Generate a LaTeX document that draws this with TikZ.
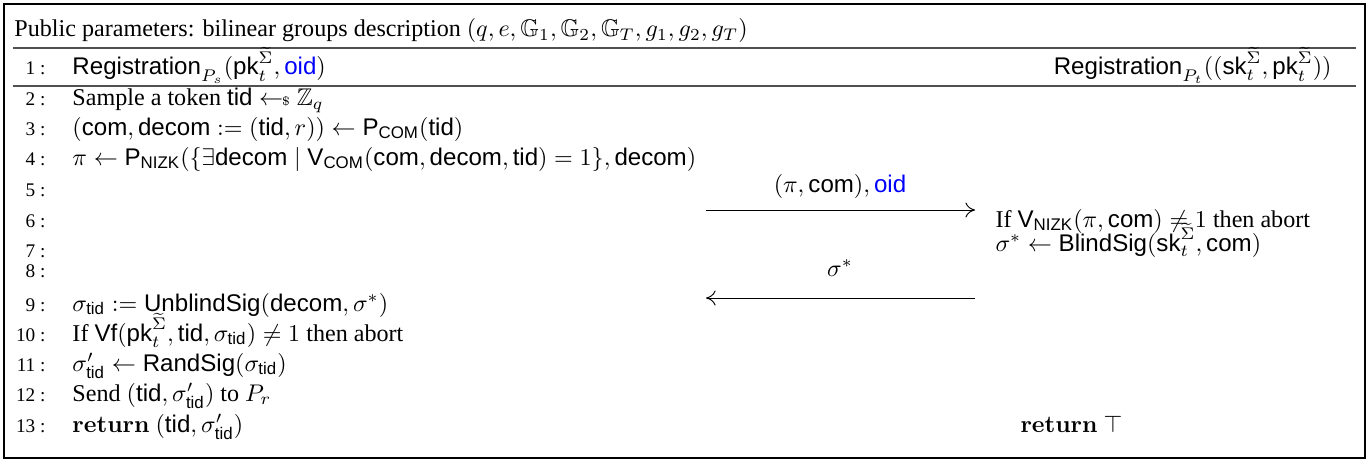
\documentclass[tikz,border=0pt]{standalone}
\usepackage{amsmath}
\usepackage{amssymb}
\usepackage[no-math]{fontspec}
\setmainfont{Liberation Serif}
\setsansfont{Liberation Sans}
\usepackage{tikz}
\usetikzlibrary{arrows.meta,positioning}
\definecolor{oidblue}{HTML}{0000FF}
\definecolor{rulegrey}{HTML}{505050}
\newcommand{\alg}[1]{\text{\sffamily #1}}
\newcommand{\sampleArrow}{\mathrel{\leftarrow\!\!{\scriptscriptstyle\$}}}
\newcommand{\sigtil}{\widetilde{\Sigma}}
\newcommand{\oid}{\textcolor{oidblue}{\alg{oid}}}

\begin{document}
\begin{tikzpicture}[x=0.415pt,y=-0.415pt,
  txt/.style={anchor=base west,inner sep=0pt},
  txtr/.style={anchor=base east,inner sep=0pt},
  lnum/.style={anchor=base east,inner sep=0pt,font=\footnotesize},
  msglabel/.style={anchor=base,inner sep=0pt},
  rulel/.style={line width=0.5pt,rulegrey},
  msg/.style={line width=0.4pt,-{To[length=1.4mm,width=2.2mm]}}]
\useasboundingbox (0,0) rectangle (1369,462);
\draw[line width=0.6pt] (4,4) rectangle (1365,458);
% header
\node[txt] (pub) at (14,37) {Public parameters: bilinear groups description $(q, e, \mathbb{G}_1, \mathbb{G}_2, \mathbb{G}_T, g_1, g_2, g_T)$};
\draw[rulel] (13,48) -- (1356,48);
\draw[rulel] (13,86) -- (1356,86);
% line numbers
\foreach \n/\y in {1/75,2/106,3/135,4/165,5/196,6/227,7/257,8/277,9/311,10/341,11/371,12/401,13/432}
  \node[lnum] (ln\n) at (46,\y) {\n\ :};
% left party
\node[txt] (regS) at (72,75) {$\alg{Registration}_{P_s}(\alg{pk}_t^{\sigtil}, \oid)$};
\node[txt] (samp) at (72,106) {Sample a token $\alg{tid} \sampleArrow \mathbb{Z}_q$};
\node[txt] (commit) at (72,135) {$(\alg{com}, \alg{decom} := (\alg{tid}, r)) \leftarrow \alg{P}_{\alg{COM}}(\alg{tid})$};
\node[txt] (proof) at (72,165) {$\pi \leftarrow \alg{P}_{\alg{NIZK}}(\{\exists \alg{decom} \mid \alg{V}_{\alg{COM}}(\alg{com}, \alg{decom}, \alg{tid}) = 1\}, \alg{decom})$};
\node[txt] (unblind) at (72,311) {$\sigma_{\alg{tid}} := \alg{UnblindSig}(\alg{decom}, \sigma^*)$};
\node[txt] (verify) at (72,341) {If $\alg{Vf}(\alg{pk}_t^{\sigtil}, \alg{tid}, \sigma_{\alg{tid}}) \neq 1$ then abort};
\node[txt] (rand) at (72,371) {$\sigma'_{\alg{tid}} \leftarrow \alg{RandSig}(\sigma_{\alg{tid}})$};
\node[txt] (send) at (72,401) {Send $(\alg{tid}, \sigma'_{\alg{tid}})$ to $P_r$};
\node[txt] (retS) at (72,432) {$\mathbf{return}\ (\alg{tid}, \sigma'_{\alg{tid}})$};
% right party
\node[txtr] (regT) at (1332,75) {$\alg{Registration}_{P_t}((\alg{sk}_t^{\sigtil}, \alg{pk}_t^{\sigtil}))$};
\node[txt] (checkNizk) at (995,227) {If $\alg{V}_{\alg{NIZK}}(\pi, \alg{com}) \neq 1$ then abort};
\node[txt] (blind) at (995,251) {$\sigma^* \leftarrow \alg{BlindSig}(\alg{sk}_t^{\sigtil}, \alg{com})$};
\node[txt] (retT) at (1020,432) {$\mathbf{return}\ \top$};
% messages
\coordinate (sendL) at (706,210);
\coordinate (sendR) at (975,210);
\coordinate (backL) at (706,298);
\coordinate (backR) at (975,298);
\draw[msg] (sendL) -- (sendR);
\draw[msg] (backR) -- (backL);
\node[msglabel] (msgOne) at (840,192) {$(\pi, \alg{com}), \oid$};
\node[msglabel] (msgTwo) at (840,276) {$\sigma^*$};
\end{tikzpicture}
\end{document}
